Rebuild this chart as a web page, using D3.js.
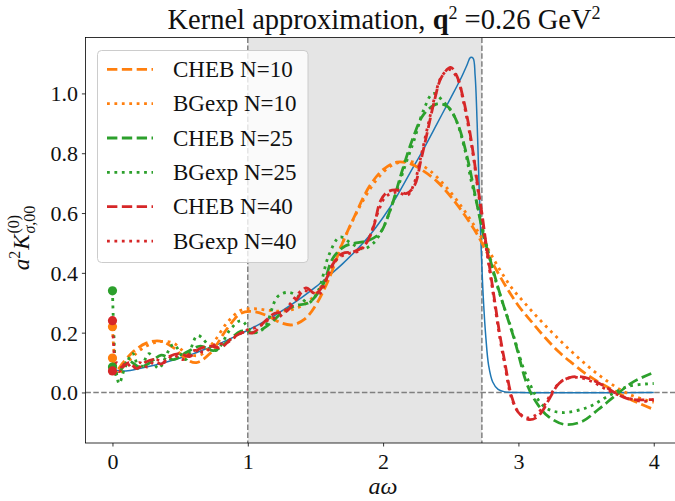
<!DOCTYPE html>
<html><head><meta charset="utf-8">
<script src="https://cdn.jsdelivr.net/npm/d3@7"></script>
<style>
html,body{margin:0;padding:0;background:#fff;overflow:hidden}
svg{display:block}
</style></head><body>
<svg id="chart" width="675" height="501"></svg>
<script>
// Target smeared kernel a^2 K^(0)_{sigma,00} as a function of a*omega
const kernelTarget = [[0,0.075],[0.1,0.072],[0.2,0.08],[0.3,0.09],[0.4,0.102],[0.5,0.115],[0.6,0.13],[0.7,0.147],[0.8,0.165],[0.9,0.186],[1.0,0.208],[1.1,0.232],[1.2,0.258],[1.3,0.287],[1.4,0.318],[1.5,0.352],[1.6,0.39],[1.7,0.43],[1.8,0.475],[1.9,0.525],[2.0,0.585],[2.1,0.655],[2.2,0.735],[2.3,0.815],[2.4,0.9],[2.5,0.985],[2.58,1.055],[2.62,1.095],[2.645,1.12],[2.665,1.118],[2.68,1.06],[2.695,0.9],[2.71,0.68],[2.725,0.48],[2.74,0.32],[2.76,0.18],[2.78,0.09],[2.81,0.035],[2.85,0.01],[2.9,0.002],[3.0,0],[4.0,0]];

// Chebyshev approximations
const chebN10 = [[0,0.115],[0.03,0.075],[0.08,0.1],[0.15,0.135],[0.25,0.165],[0.35,0.172],[0.45,0.15],[0.55,0.11],[0.62,0.1],[0.72,0.13],[0.85,0.215],[0.95,0.265],[1.05,0.27],[1.15,0.255],[1.25,0.232],[1.33,0.226],[1.42,0.245],[1.5,0.29],[1.6,0.38],[1.7,0.5],[1.8,0.6],[1.9,0.69],[2.0,0.745],[2.1,0.77],[2.2,0.765],[2.3,0.74],[2.4,0.705],[2.5,0.655],[2.6,0.595],[2.7,0.525],[2.8,0.44],[2.9,0.36],[3.0,0.29],[3.1,0.235],[3.2,0.182],[3.3,0.135],[3.4,0.097],[3.5,0.062],[3.6,0.033],[3.7,0.008],[3.8,-0.017],[3.9,-0.038],[4.0,-0.057]];
const chebN25 = [[0,0.085],[0.02,0.06],[0.06,0.075],[0.12,0.105],[0.2,0.085],[0.28,0.1],[0.36,0.125],[0.45,0.11],[0.55,0.135],[0.65,0.155],[0.75,0.14],[0.85,0.17],[0.95,0.205],[1.05,0.2],[1.15,0.225],[1.25,0.265],[1.35,0.29],[1.45,0.3],[1.55,0.355],[1.63,0.45],[1.72,0.49],[1.8,0.5],[1.9,0.51],[1.98,0.535],[2.06,0.62],[2.14,0.74],[2.22,0.85],[2.3,0.93],[2.4,0.965],[2.48,0.955],[2.55,0.9],[2.62,0.79],[2.68,0.66],[2.74,0.53],[2.8,0.43],[2.87,0.32],[2.97,0.177],[3.07,0.02],[3.15,-0.045],[3.22,-0.08],[3.34,-0.107],[3.47,-0.097],[3.59,-0.057],[3.71,-0.013],[3.84,0.033],[4.0,0.067]];
const chebN40 = [[0,0.072],[0.03,0.1],[0.07,0.085],[0.12,0.1],[0.18,0.08],[0.24,0.1],[0.3,0.11],[0.36,0.095],[0.42,0.12],[0.5,0.13],[0.57,0.12],[0.64,0.145],[0.72,0.155],[0.8,0.15],[0.88,0.18],[0.96,0.2],[1.04,0.2],[1.12,0.235],[1.2,0.265],[1.28,0.27],[1.36,0.31],[1.43,0.35],[1.5,0.33],[1.56,0.36],[1.63,0.43],[1.7,0.465],[1.78,0.47],[1.86,0.49],[1.93,0.555],[1.98,0.64],[2.03,0.67],[2.1,0.677],[2.17,0.665],[2.23,0.69],[2.28,0.777],[2.33,0.877],[2.38,0.977],[2.43,1.053],[2.5,1.087],[2.55,1.053],[2.59,0.987],[2.63,0.9],[2.67,0.787],[2.7,0.687],[2.73,0.6],[2.76,0.5],[2.79,0.41],[2.82,0.32],[2.86,0.2],[2.9,0.1],[2.95,-0.013],[3.0,-0.067],[3.07,-0.09],[3.13,-0.085],[3.18,-0.06],[3.23,-0.02],[3.3,0.03],[3.38,0.05],[3.45,0.053],[3.53,0.045],[3.62,0.025],[3.71,0.0],[3.8,-0.02],[3.9,-0.025],[4.0,-0.023]];

// Backus-Gilbert-type expansions
const bgexpN10 = [[0,0.22],[0.015,0.12],[0.04,0.06],[0.08,0.08],[0.15,0.12],[0.25,0.155],[0.35,0.17],[0.45,0.165],[0.55,0.13],[0.65,0.125],[0.75,0.17],[0.85,0.235],[0.95,0.275],[1.05,0.28],[1.15,0.275],[1.25,0.272],[1.35,0.28],[1.45,0.305],[1.55,0.36],[1.65,0.45],[1.75,0.55],[1.85,0.64],[1.95,0.71],[2.05,0.755],[2.15,0.772],[2.25,0.767],[2.35,0.74],[2.45,0.695],[2.55,0.64],[2.65,0.575],[2.75,0.5],[2.85,0.42],[2.95,0.35],[3.05,0.297],[3.15,0.247],[3.25,0.2],[3.35,0.155],[3.45,0.113],[3.55,0.074],[3.65,0.04],[3.75,0.01],[3.85,-0.012],[4.0,-0.033]];
const bgexpN25 = [[0,0.34],[0.01,0.2],[0.025,0.08],[0.05,0.03],[0.09,0.08],[0.15,0.13],[0.2,0.075],[0.27,0.13],[0.34,0.08],[0.45,0.16],[0.54,0.11],[0.63,0.19],[0.76,0.14],[0.87,0.21],[0.95,0.24],[1.04,0.2],[1.12,0.215],[1.22,0.32],[1.3,0.335],[1.38,0.32],[1.45,0.3],[1.52,0.34],[1.6,0.46],[1.68,0.52],[1.76,0.5],[1.85,0.48],[1.93,0.5],[2.0,0.55],[2.08,0.645],[2.16,0.755],[2.23,0.845],[2.3,0.945],[2.37,1.0],[2.45,0.97],[2.53,0.92],[2.6,0.82],[2.65,0.71],[2.7,0.62],[2.75,0.52],[2.83,0.377],[2.95,0.21],[3.07,0.043],[3.19,-0.047],[3.32,-0.067],[3.51,-0.05],[3.66,-0.013],[3.81,0.02],[4.0,0.03]];
const bgexpN40 = [[0,0.24],[0.01,0.15],[0.025,0.08],[0.05,0.07],[0.1,0.1],[0.15,0.08],[0.2,0.1],[0.26,0.085],[0.32,0.11],[0.38,0.1],[0.45,0.125],[0.52,0.11],[0.6,0.14],[0.68,0.135],[0.76,0.16],[0.84,0.165],[0.92,0.19],[1.0,0.21],[1.08,0.22],[1.16,0.245],[1.24,0.255],[1.32,0.3],[1.4,0.34],[1.47,0.335],[1.53,0.33],[1.6,0.4],[1.67,0.45],[1.75,0.465],[1.83,0.475],[1.9,0.52],[1.96,0.6],[2.02,0.655],[2.1,0.67],[2.18,0.66],[2.23,0.7],[2.28,0.79],[2.33,0.89],[2.38,0.985],[2.43,1.055],[2.49,1.08],[2.55,1.05],[2.59,0.98],[2.63,0.89],[2.67,0.78],[2.7,0.68],[2.73,0.59],[2.76,0.49],[2.79,0.4],[2.82,0.31],[2.86,0.19],[2.9,0.09],[2.95,-0.02],[3.0,-0.065],[3.06,-0.085],[3.12,-0.078],[3.18,-0.05],[3.24,-0.005],[3.31,0.035],[3.39,0.05],[3.47,0.048],[3.55,0.035],[3.63,0.015],[3.72,-0.005],[3.82,-0.02],[3.92,-0.03],[4.0,-0.025]];

const seriesNames = ["CHEB N=10","BGexp N=10","CHEB N=25","BGexp N=25","CHEB N=40","BGexp N=40"];
const xTicks = [0,1,2,3,4];
const yTicks = [0.0,0.2,0.4,0.6,0.8,1.0];
const bandRange = [1.0, 2.73];

const SERIF = "'Liberation Serif','Times New Roman',serif";
const svg = d3.select("#chart");
const plot = {left: 85.4, right: 680.8, top: 37.5, bottom: 443};

const x = d3.scaleLinear().domain([-0.2, 4.2]).range([plot.left, plot.right]);
const y = d3.scaleLinear().domain([-0.169, 1.187]).range([plot.bottom, plot.top]);

svg.append("defs").append("clipPath").attr("id","plotclip")
  .append("rect").attr("x",plot.left).attr("y",plot.top)
  .attr("width",plot.right-plot.left).attr("height",plot.bottom-plot.top);

const body = svg.append("g").attr("clip-path","url(#plotclip)");

// shaded band
body.append("rect")
  .attr("x", x(bandRange[0])).attr("y", plot.top)
  .attr("width", x(bandRange[1]) - x(bandRange[0]))
  .attr("height", plot.bottom - plot.top)
  .attr("fill", "#e5e5e5");

// reference dashed lines
const refStyle = s => s.attr("stroke","#808080").attr("stroke-width",1.5).attr("stroke-dasharray","5.5,2.4").attr("fill","none");
bandRange.forEach(v => {
  body.append("line").attr("x1",x(v)).attr("x2",x(v)).attr("y1",plot.top).attr("y2",plot.bottom).call(refStyle);
});
body.append("line").attr("x1",plot.left).attr("x2",plot.right).attr("y1",y(0)).attr("y2",y(0)).call(refStyle);

const line = d3.line().x(d => x(d[0])).y(d => y(d[1])).curve(d3.curveCatmullRom.alpha(0.5));

// target kernel
body.append("path").datum(kernelTarget).attr("d", line)
  .attr("fill","none").attr("stroke","#1f77b4").attr("stroke-width",1.5);

const LW = 2.8;
const DASHED = `${3.7*LW},${1.6*LW}`;
const DOTTED = `${LW},${1.65*LW}`;
const series = [
  {name: seriesNames[0], data: chebN10, color: "#ff7f0e", dash: DASHED},
  {name: seriesNames[1], data: bgexpN10, color: "#ff7f0e", dash: DOTTED},
  {name: seriesNames[2], data: chebN25, color: "#2ca02c", dash: DASHED},
  {name: seriesNames[3], data: bgexpN25, color: "#2ca02c", dash: DOTTED},
  {name: seriesNames[4], data: chebN40, color: "#d62728", dash: DASHED},
  {name: seriesNames[5], data: bgexpN40, color: "#d62728", dash: DOTTED}
];

series.forEach(s => {
  body.append("path").datum(s.data).attr("d", line)
    .attr("fill","none").attr("stroke", s.color).attr("stroke-width", LW)
    .attr("stroke-dasharray", s.dash).attr("stroke-linecap","butt");
});
// value at omega = 0 for each approximation
series.forEach(s => {
  body.append("circle").attr("cx", x(s.data[0][0])).attr("cy", y(s.data[0][1]))
    .attr("r", 4.6).attr("fill", s.color);
});

// axes
const xAxis = svg.append("g").attr("transform",`translate(0,${plot.bottom})`)
  .call(d3.axisBottom(x).tickValues(xTicks).tickSize(3.5).tickPadding(4).tickFormat(d3.format("d")));
const yAxis = svg.append("g").attr("transform",`translate(${plot.left},0)`)
  .call(d3.axisLeft(y).tickValues(yTicks).tickSize(3.5).tickPadding(4).tickFormat(d3.format(".1f")));
[xAxis, yAxis].forEach(a => {
  a.select(".domain").remove();
  a.selectAll(".tick line").attr("stroke","#000").attr("stroke-width",0.8);
  a.selectAll(".tick text").attr("font-family",SERIF).attr("font-size",22).attr("fill","#111");
});
xAxis.selectAll(".tick text").attr("dy","0.85em");
yAxis.selectAll(".tick text").attr("dy","0.34em");

// frame
svg.append("rect").attr("x",plot.left).attr("y",plot.top)
  .attr("width",plot.right-plot.left).attr("height",plot.bottom-plot.top)
  .attr("fill","none").attr("stroke","#000").attr("stroke-width",0.8);

// legend
const lg = svg.append("g");
lg.append("rect").attr("x",97.5).attr("y",50.5).attr("width",210.5).attr("height",212)
  .attr("rx",4).attr("fill","#fff").attr("fill-opacity",0.8).attr("stroke","#cccccc").attr("stroke-width",1);
series.forEach((s,i) => {
  const cy = 69.3 + i*34.35;
  lg.append("line").attr("x1",107).attr("x2",153).attr("y1",cy).attr("y2",cy)
    .attr("stroke",s.color).attr("stroke-width",LW).attr("stroke-dasharray",s.dash);
  lg.append("text").attr("x",173).attr("y",cy+7.6).attr("font-family",SERIF).attr("font-size",23)
    .attr("fill","#111").text(s.name);
});

// title
const title = svg.append("text").attr("x",384).attr("y",29).attr("text-anchor","middle")
  .attr("font-family",SERIF).attr("font-size",28.5).attr("fill","#111");
title.append("tspan").text("Kernel approximation, ");
title.append("tspan").attr("font-weight","bold").text("q");
title.append("tspan").attr("font-size",18).attr("dy",-10).text("2");
title.append("tspan").attr("dy",10).text(" =0.26 GeV");
title.append("tspan").attr("font-size",18).attr("dy",-10).text("2");

// x label
svg.append("text").attr("x",383).attr("y",494).attr("text-anchor","middle")
  .attr("font-family",SERIF).attr("font-size",24).attr("font-style","italic").attr("fill","#111").text("aω");

// y label
const yg = svg.append("g").attr("transform","translate(29,238) rotate(-90)");
const yl = yg.append("text").attr("font-family",SERIF).attr("font-size",23).attr("fill","#111");
yl.append("tspan").attr("font-style","italic").text("a");
yl.append("tspan").attr("font-size",16).attr("dy",-9).text("2");
yl.append("tspan").attr("font-style","italic").attr("dx",1).attr("dy",9).text("K");
const sup = yl.append("tspan").attr("font-size",16).attr("dx",1).attr("dy",-10).text("(0)");
const supW = sup.node().getComputedTextLength();
yl.append("tspan").attr("font-size",16).attr("font-style","italic").attr("dx",-supW).attr("dy",16).text("σ");
yl.append("tspan").attr("font-size",16).text(",00");
const bb = yl.node().getBBox();
yl.attr("x", -bb.width/2 - bb.x);
</script>
</body></html>
